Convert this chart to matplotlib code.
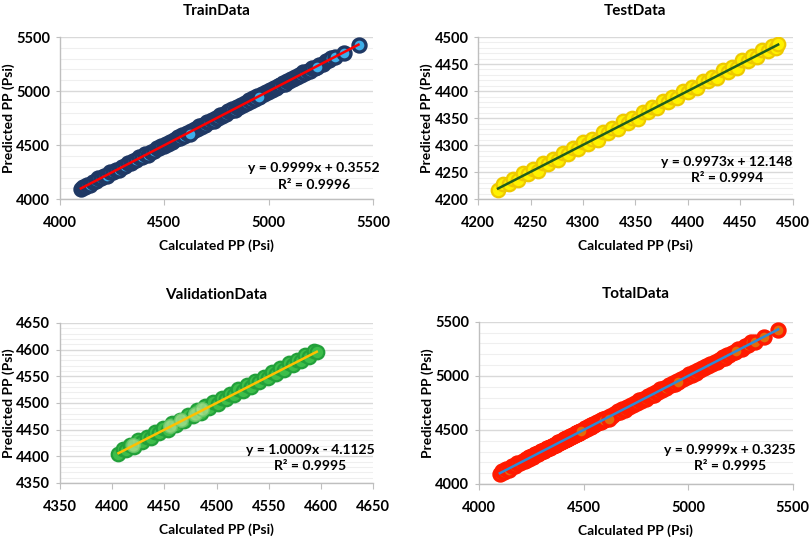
import numpy as np
import matplotlib
matplotlib.use("Agg")
import matplotlib.pyplot as plt
from matplotlib.ticker import MultipleLocator

plt.rcParams['font.family'] = ['Lato', 'DejaVu Sans']

# === DATA ===
train_x = [4100, 4108, 4118, 4130, 4143, 4157, 4170, 4184, 4198, 4212,
           4226, 4240, 4254, 4268, 4282, 4296, 4310, 4324, 4338, 4352,
           4366, 4380, 4394, 4408, 4422, 4436, 4450, 4464, 4476, 4486,
           4496, 4506, 4516, 4526, 4536, 4546, 4556, 4566, 4576, 4586,
           4596, 4606, 4616, 4626, 4636, 4646, 4656, 4666, 4676, 4686,
           4696, 4706, 4716, 4726, 4736, 4746, 4756, 4766, 4776, 4786,
           4796, 4806, 4816, 4826, 4836, 4846, 4856, 4866, 4876, 4886,
           4896, 4906, 4916, 4926, 4936, 4946, 4956, 4966, 4976, 4986,
           4996, 5006, 5016, 5026, 5036, 5046, 5056, 5066, 5076, 5086,
           5096, 5106, 5116, 5126, 5136, 5146, 5156, 5166, 5176, 5186,
           5196, 5208, 5222, 5240, 5258, 5272, 5288, 5300, 5318,
           4622, 4952, 5230, 5360, 5430]
train_y = [4093, 4116, 4114, 4136, 4134, 4162, 4167, 4193, 4192, 4216,
           4219, 4248, 4250, 4274, 4273, 4301, 4307, 4333, 4332, 4356,
           4359, 4388, 4390, 4414, 4413, 4441, 4447, 4473, 4470, 4490,
           4489, 4514, 4512, 4532, 4527, 4551, 4553, 4575, 4570, 4590,
           4589, 4614, 4612, 4632, 4627, 4651, 4653, 4675, 4670, 4690,
           4689, 4714, 4712, 4732, 4727, 4751, 4753, 4775, 4770, 4790,
           4789, 4814, 4812, 4832, 4827, 4851, 4853, 4875, 4870, 4890,
           4889, 4914, 4912, 4932, 4927, 4951, 4953, 4975, 4970, 4990,
           4989, 5014, 5012, 5032, 5027, 5051, 5053, 5075, 5070, 5090,
           5089, 5114, 5112, 5132, 5127, 5151, 5153, 5175, 5170, 5190,
           5189, 5216, 5218, 5246, 5249, 5277, 5285, 5309, 5312,
           4602, 4944, 5226, 5356, 5425]

test_x = [4219, 4224, 4229, 4233, 4238, 4243, 4248, 4252, 4257, 4262,
          4267, 4271, 4276, 4281, 4286, 4290, 4295, 4300, 4305, 4309,
          4314, 4319, 4324, 4328, 4333, 4338, 4343, 4347, 4352, 4357,
          4362, 4366, 4371, 4376, 4381, 4385, 4390, 4395, 4400, 4404,
          4409, 4414, 4419, 4423, 4428, 4433, 4438, 4442, 4447, 4452,
          4457, 4461, 4466, 4471, 4476, 4480, 4484, 4486]
test_y = [4217, 4229, 4228, 4237, 4235, 4249, 4246, 4255, 4253, 4267,
          4266, 4275, 4273, 4286, 4284, 4294, 4292, 4306, 4303, 4312,
          4310, 4324, 4323, 4332, 4330, 4344, 4341, 4350, 4348, 4362,
          4361, 4370, 4368, 4381, 4379, 4389, 4387, 4401, 4398, 4407,
          4405, 4419, 4418, 4427, 4425, 4439, 4436, 4445, 4443, 4457,
          4456, 4465, 4463, 4476, 4474, 4484, 4480, 4487]

val_x = [4406, 4410, 4413, 4417, 4421, 4425, 4429, 4433, 4437, 4441,
         4445, 4449, 4453, 4457, 4461, 4465, 4469, 4473, 4477, 4481,
         4485, 4489, 4493, 4497, 4501, 4505, 4509, 4513, 4517, 4521,
         4525, 4529, 4533, 4537, 4541, 4545, 4549, 4553, 4557, 4561,
         4565, 4569, 4573, 4577, 4581, 4585, 4589, 4593, 4596]
val_y = [4404, 4414, 4411, 4421, 4418, 4430, 4427, 4437, 4434, 4446,
         4443, 4454, 4450, 4462, 4459, 4469, 4466, 4478, 4475, 4486,
         4482, 4494, 4491, 4501, 4498, 4510, 4507, 4517, 4514, 4526,
         4523, 4533, 4530, 4542, 4539, 4549, 4546, 4558, 4555, 4565,
         4562, 4574, 4571, 4581, 4578, 4590, 4587, 4597, 4595]
# lighter (faded) points seen in the validation panel
val_light_x = [4420, 4455, 4466, 4479, 4486]
val_light_y = [4421, 4457, 4468, 4480, 4488]

total_x = train_x[:-5] + val_x + test_x + train_x[-5:]
total_y = train_y[:-5] + val_y + test_y + train_y[-5:]

# trendline equations shown in the chart
fits = {
    'TrainData': (0.9999, 0.3552, 0.9996),
    'TestData': (0.9973, 12.148, 0.9994),
    'ValidationData': (1.0009, -4.1125, 0.9995),
    'TotalData': (0.9999, 0.3235, 0.9995),
}

fig = plt.figure(figsize=(8.09, 5.37), dpi=100)
ax_train = fig.add_axes([0.0742, 0.629, 0.387, 0.302])
ax_test = fig.add_axes([0.591, 0.629, 0.389, 0.302])
ax_val = fig.add_axes([0.0742, 0.1006, 0.387, 0.298])
ax_total = fig.add_axes([0.592, 0.0987, 0.388, 0.302])


def panel(ax, name, x, y, fill, edge, line_col, lims, major, minor, txt_pos, pad,
          size=80, lw=1.8):
    ax.scatter(x, y, s=size, facecolor=fill, edgecolor=edge, linewidth=lw, zorder=3)
    m, c, r2 = fits[name]
    xl = np.array([min(x), max(x)])
    ax.plot(xl, m * xl + c, color=line_col, linewidth=1.8, zorder=4)
    ax.set_xlim(lims)
    ax.set_ylim(lims)
    ax.xaxis.set_major_locator(MultipleLocator(major))
    ax.yaxis.set_major_locator(MultipleLocator(major))
    ax.yaxis.set_minor_locator(MultipleLocator(minor))
    ax.grid(True, which='major', axis='y', color='#D9D9D9', linewidth=1.0, zorder=0)
    ax.grid(True, which='minor', axis='y', color='#EFEFEF', linewidth=0.8, zorder=0)
    ax.set_axisbelow(True)
    for s in ['top', 'right']:
        ax.spines[s].set_visible(False)
    for s in ['left', 'bottom']:
        ax.spines[s].set_color('#BFBFBF')
        ax.spines[s].set_linewidth(1.0)
    ax.tick_params(axis='x', length=4, color='#BFBFBF', pad=8, labelsize=10.5)
    ax.tick_params(axis='y', length=3, color='#BFBFBF', pad=4, labelsize=10.5)
    ax.tick_params(which='minor', length=0)
    for lb in ax.get_xticklabels() + ax.get_yticklabels():
        lb.set_fontweight('bold')
    ax.set_title(name, fontsize=11, fontweight='bold', pad=pad)
    ax.set_xlabel('Calculated PP (Psi)', fontsize=10, fontweight='bold', labelpad=7)
    ax.set_ylabel('Predicted PP (Psi)', fontsize=10, fontweight='bold', labelpad=1)
    sign = '+' if c >= 0 else '-'
    eq = f'y = {m:.4f}x {sign} {abs(c):g}\nR\u00b2 = {r2:.4f}'
    ax.text(txt_pos[0], txt_pos[1], eq, transform=ax.transAxes, ha='center',
            va='center', fontsize=10, fontweight='bold', linespacing=1.45)


panel(ax_train, 'TrainData', train_x, train_y, '#3DAEE9', '#1F3864', '#FF0000',
      (4000, 5500), 500, 100, (0.81, 0.14), 16, size=88, lw=2.4)
panel(ax_test, 'TestData', test_x, test_y, '#FFF200', '#EEC900', '#1E5E1E',
      (4200, 4500), 50, 10, (0.79, 0.18), 16, size=95, lw=1.6)
panel(ax_val, 'ValidationData', val_x, val_y, '#3DBE4A', '#22A03A', '#FFC000',
      (4350, 4650), 50, 10, (0.80, 0.155), 17, size=95, lw=1.6)
ax_val.scatter(val_light_x, val_light_y, s=95, facecolor='#A8E08F', edgecolor='#6CC86C',
               linewidth=1.2, alpha=0.8, zorder=3.5)
panel(ax_total, 'TotalData', total_x, total_y, '#E46C0A', '#FF1A00', '#2E8BD6',
      (4000, 5500), 500, 100, (0.80, 0.16), 17, size=88, lw=2.4)

plt.savefig('out.png', dpi=100)
